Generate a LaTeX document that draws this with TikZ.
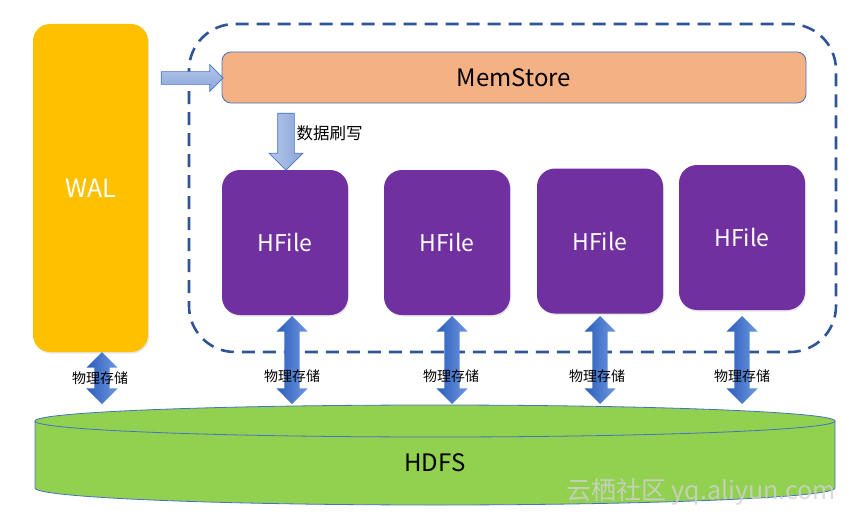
\documentclass[tikz,border=0pt]{standalone}
\usepackage{fontspec}
\setmainfont{Noto Sans CJK SC}
\usetikzlibrary{shapes.arrows,shadows}

\definecolor{walyellow}{HTML}{FFC000}
\definecolor{memorange}{HTML}{F4B183}
\definecolor{hfpurple}{HTML}{7030A0}
\definecolor{hdfsgreen}{HTML}{92D050}
\definecolor{lineblue}{HTML}{4472C4}
\definecolor{dashblue}{HTML}{2F5597}
\definecolor{lighttop}{HTML}{B4C6EA}
\definecolor{lightbot}{HTML}{8BA6DA}
\definecolor{deeptop}{HTML}{6C97DE}
\definecolor{deepbot}{HTML}{2D5DBD}

\begin{document}
\begin{tikzpicture}[x=1pt, y=-1pt,
		wal_style/.style={fill=walyellow, rounded corners=17pt, minimum width=115pt, minimum height=328pt, text=white, font=\fontsize{25}{29}\selectfont, drop shadow={opacity=0.2, shadow xshift=1pt, shadow yshift=-1.5pt}},
		mem_style/.style={draw=lineblue, line width=0.8pt, fill=memorange, rounded corners=9pt, minimum width=584pt, minimum height=51pt, font=\fontsize{24}{28}\selectfont},
		hfile_style/.style={fill=hfpurple, rounded corners=18pt, minimum width=126pt, minimum height=145pt, text=white, font=\fontsize{23}{27}\selectfont, drop shadow={opacity=0.2, shadow xshift=1pt, shadow yshift=-1.5pt}},
		region_style/.style={draw=dashblue, line width=2.6pt, dash pattern=on 13pt off 8pt, rounded corners=46pt},
		light_arrow/.style={single arrow, draw=lineblue, line width=0.7pt, inner xsep=0pt, single arrow head extend=7pt, shading angle=0},
		store_arrow/.style={double arrow, draw=none, rotate=90, inner xsep=0pt, inner ysep=7.5pt, double arrow head extend=8pt, left color=deepbot, right color=deeptop},
		store_label/.style={font=\fontsize{14}{16}\selectfont},
		hdfs_style/.style={fill=hdfsgreen, draw=lineblue, line width=0.8pt},
		mark_style/.style={text=white!82!black, opacity=0.8, font=\fontsize{25}{29}\selectfont}]

	\useasboundingbox (0,0) rectangle (854,519);

	% storage region
	\draw[region_style] (189,24) rectangle (836,352);

	\node[wal_style] (wal) at (90.5,188) {WAL};
	\node[mem_style] (mem) at (514,77.5) {MemStore};

	\node[hfile_style] (hf1) at (285,242.5) {HFile};
	\node[hfile_style] (hf2) at (447,242.5) {HFile};
	\node[hfile_style] (hf3) at (600,241) {HFile};
	\node[hfile_style] (hf4) at (742,237.5) {HFile};

	% write into memstore, then flush
	\node[light_arrow, minimum height=62pt, inner ysep=6pt, top color=lighttop, bottom color=lightbot] (walmem) at (189,78) {};
	\node[light_arrow, rotate=-90, minimum height=57pt, inner ysep=8pt, single arrow head extend=8.5pt, left color=lighttop, right color=lightbot] (flush) at (286,137.5) {};
	\node[right, font=\fontsize{16.5}{19}\selectfont] (flushlabel) at (293,133) {数据刷写};

	% HDFS
	\draw[hdfs_style] (35,488) arc[start angle=180, end angle=360, x radius=400pt, y radius=17pt]
		-- (835,421) arc[start angle=0, end angle=180, x radius=400pt, y radius=16pt] -- cycle;
	\draw[lineblue, line width=0.8pt] (35,421) arc[start angle=180, end angle=360, x radius=400pt, y radius=16pt];
	\node[font=\fontsize{24}{28}\selectfont] (hdfs) at (435,463) {HDFS};

	\node[store_arrow, minimum height=52pt] (st0) at (102,378) {};
	\node[store_arrow, minimum height=88pt] (st1) at (292,360) {};
	\node[store_arrow, minimum height=88pt] (st2) at (452,360) {};
	\node[store_arrow, minimum height=88pt] (st3) at (600,360) {};
	\node[store_arrow, minimum height=88pt] (st4) at (742,360) {};

	\node[store_label] (sl0) at (100,378) {物理存储};
	\node[store_label] (sl1) at (292,376) {物理存储};
	\node[store_label] (sl2) at (451,376) {物理存储};
	\node[store_label] (sl3) at (597,376) {物理存储};
	\node[store_label] (sl4) at (742,376) {物理存储};

	\node[mark_style] (watermark) at (701,492) {云栖社区 yq.aliyun.com};
\end{tikzpicture}
\end{document}
